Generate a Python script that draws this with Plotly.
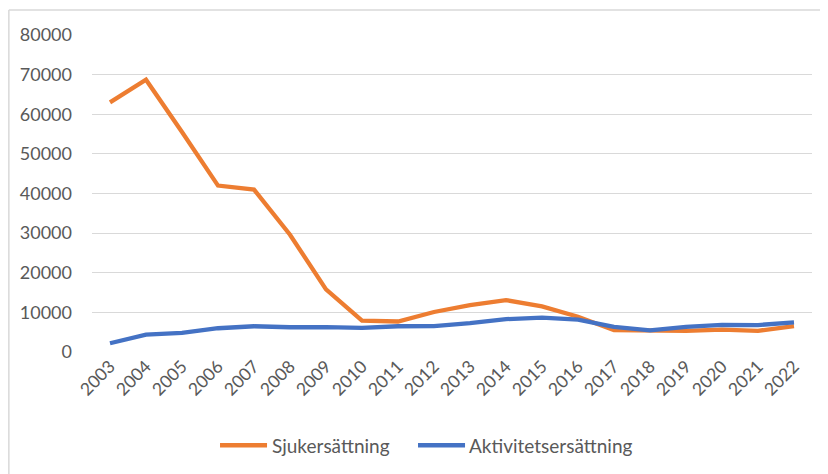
import plotly.graph_objects as go

years = [str(y) for y in range(2003, 2023)]
sjukersattning = [63000, 68700, 55500, 42000, 41000, 29600, 15800, 7900, 7700, 10100,
                  11800, 13100, 11500, 8900, 5500, 5400, 5350, 5650, 5350, 6500]
aktivitetsersattning = [2200, 4400, 4800, 6000, 6500, 6250, 6300, 6100, 6500, 6550,
                        7300, 8300, 8650, 8150, 6350, 5450, 6350, 6850, 6800, 7450]

series_names = ["Sjukersättning", "Aktivitetsersättning"]
colors = ["#ED7D31", "#4472C4"]
y_ticks = list(range(0, 80001, 10000))

fig = go.Figure()
for name, vals, col in zip(series_names, [sjukersattning, aktivitetsersattning], colors):
    fig.add_trace(go.Scatter(x=years, y=vals, mode="lines", name=name,
                             line=dict(color=col, width=4.3)))

txt = "#595959"

# Custom legend (Excel style: long key lines)
legend_y = -0.2945
legend_keys = [(0.1778, 0.2431, 0.2472), (0.4528, 0.5181, 0.5208)]
shapes = [
    dict(type="line", xref="paper", yref="paper", x0=-0.1155, x1=-0.1155, y0=-0.5, y1=1.0787,
         line=dict(color="#d9d9d9", width=1.5)),
    dict(type="line", xref="paper", yref="paper", x0=-0.1155, x1=1.05, y0=1.0787, y1=1.0787,
         line=dict(color="#d9d9d9", width=1.5)),
]
annotations = []
for (x0, x1, xt), name, col in zip(legend_keys, series_names, colors):
    shapes.append(dict(type="line", xref="paper", yref="paper", x0=x0, x1=x1,
                       y0=legend_y, y1=legend_y, line=dict(color=col, width=4.5)))
    annotations.append(dict(xref="paper", yref="paper", x=xt, y=legend_y, text=name,
                            showarrow=False, xanchor="left", yanchor="middle",
                            font=dict(size=19, color=txt)))

fig.update_layout(
    width=820, height=466,
    margin=dict(l=84, r=16, t=27, b=121.5, autoexpand=False),
    paper_bgcolor="white", plot_bgcolor="white",
    font=dict(family="Lato, Carlito, sans-serif", size=18, color=txt),
    showlegend=False,
    xaxis=dict(type="category", range=[-0.5, 19.5], tickangle=-45, showgrid=False,
               showline=False, zeroline=False, ticks="", tickfont=dict(size=17.5, color=txt)),
    yaxis=dict(range=[0, 80000], tickvals=y_ticks, ticktext=[str(v) for v in y_ticks],
               showgrid=True, gridcolor="#d9d9d9", gridwidth=1.3, zeroline=False,
               showline=False, ticks="", ticklabelstandoff=19,
               tickfont=dict(size=18, color=txt)),
    shapes=shapes,
    annotations=annotations,
)

fig.write_html("out.html")
